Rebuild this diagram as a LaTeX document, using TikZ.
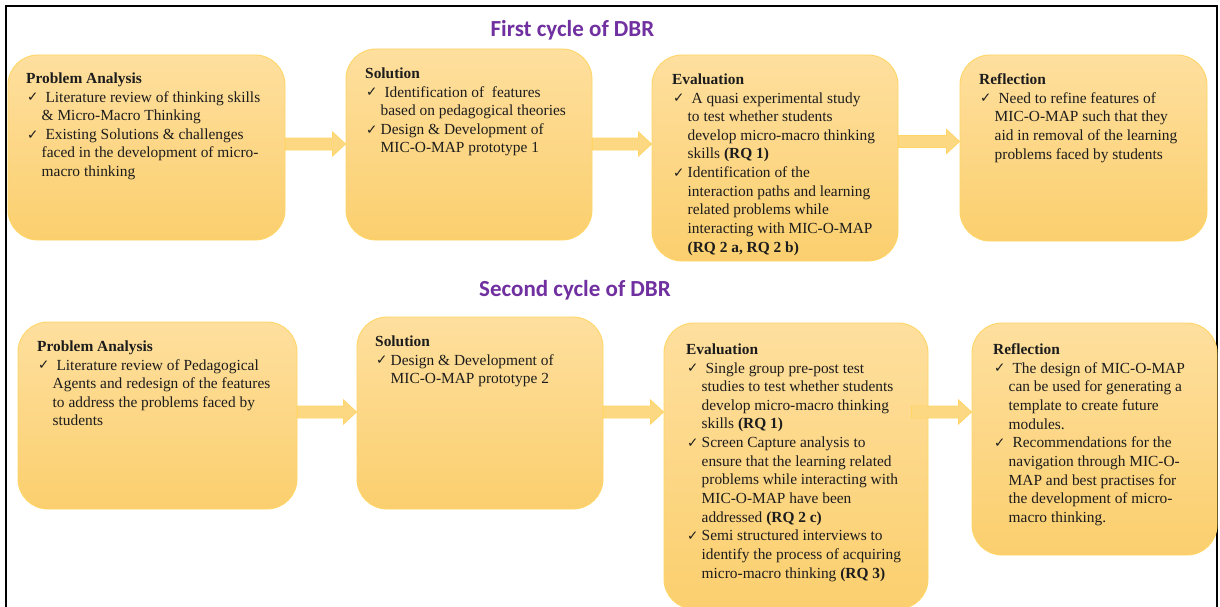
\documentclass[tikz,border=0pt]{standalone}
\usepackage{fontspec}
\setmainfont{Liberation Serif}
\newfontfamily\titlefont{Carlito}
\newfontfamily\checkfont{DejaVu Sans}
\usetikzlibrary{calc}

\definecolor{boxtop}{RGB}{254,223,158}
\definecolor{boxbot}{RGB}{251,207,110}
\definecolor{boxedge}{RGB}{255,214,102}
\definecolor{arrowfill}{RGB}{253,216,130}
\definecolor{titlepurple}{RGB}{112,48,160}
\definecolor{bodytext}{RGB}{28,28,28}

% width reserved for the tick in front of each item
\newlength\ckw
\setlength\ckw{15.5pt}
\newcommand\ck{\makebox[\ckw][l]{\hspace{1pt}\raisebox{0.3pt}{\checkfont\fontsize{13.5}{13.5}\selectfont ✓}}}
\newcommand\hang{\hspace*{\ckw}}

% block arrow from point #1 to point #2 (same height)
\newcommand\flowarrow[2]{%
  \draw[flow] let \p1=#1, \p2=#2 in
    (\x1,\y1+6pt) -- (\x2-13pt,\y1+6pt) -- (\x2-13pt,\y1+12pt) -- (\x2,\y1)
    -- (\x2-13pt,\y1-12pt) -- (\x2-13pt,\y1-6pt) -- (\x1,\y1-6pt) -- cycle;}

\tikzset{
  stage/.style={rounded corners=30pt, top color=boxtop, bottom color=boxbot,
    draw=boxedge, line width=0.9pt, inner sep=0pt},
  stagetext/.style={anchor=north west, align=left, inner sep=0pt,
    font=\fontsize{15.4}{18.65}\selectfont, text=bodytext},
  cycletitle/.style={font=\titlefont\bfseries\fontsize{23}{27}\selectfont, text=titlepurple},
  flow/.style={fill=arrowfill, draw=boxedge, line width=0.8pt, line join=miter},
  frame/.style={draw=black, line width=2pt}
}

\begin{document}
\begin{tikzpicture}[x=1pt, y=-1pt]
\useasboundingbox (0,0) rectangle (1220,607);
\clip (0,0) rectangle (1220,607);
\fill[white] (0,0) rectangle (1220,607);

% outer frame, open at the bottom
\draw[frame] (6.3,620) -- (6.3,6.5) -- (1217,6.5) -- (1217,620);

% titles
\node[cycletitle] (t1) at (572.5,30) {First cycle of DBR};
\node[cycletitle] (t2) at (575,290) {Second cycle of DBR};

% first cycle boxes
\node[stage, minimum width=277pt, minimum height=185pt] (pa1) at (146.5,147.5) {};
\node[stage, minimum width=246pt, minimum height=191pt] (sol1) at (469,144.5) {};
\node[stage, minimum width=246pt, minimum height=206pt] (ev1) at (775,158) {};
\node[stage, minimum width=247pt, minimum height=186pt] (ref1) at (1083.5,148) {};

% second cycle boxes
\node[stage, minimum width=279pt, minimum height=187pt] (pa2) at (157.5,415.5) {};
\node[stage, minimum width=246pt, minimum height=192pt] (sol2) at (480,413) {};
\node[stage, minimum width=264pt, minimum height=286pt] (ev2) at (796,466) {};
\node[stage, minimum width=245pt, minimum height=232pt] (ref2) at (1094.5,439) {};

% arrows
\flowarrow{(pa1.east |- 0,144)}{(sol1.west |- 0,144)}
\flowarrow{(sol1.east |- 0,144)}{(ev1.west |- 0,144)}
\flowarrow{(ev1.east |- 0,141.5)}{(ref1.west |- 0,141.5)}
\flowarrow{(pa2.east |- 0,412)}{(sol2.west |- 0,412)}
\flowarrow{(sol2.east |- 0,412)}{(ev2.west |- 0,412)}
\flowarrow{($(ev2.east |- 0,412)+(-17,0)$)}{(ref2.west |- 0,412)}

% first cycle texts
\node[stagetext] (pa1t) at (26,72.5) {\textbf{Problem Analysis}\\
\ck\ Literature review of thinking skills\\
\hang\& Micro-Macro Thinking\\
\ck\ Existing Solutions \& challenges\\
\hang faced in the development of micro-\\
\hang macro thinking};

\node[stagetext] (sol1t) at (365,67.5) {\textbf{Solution}\\
\ck\ Identification of\ \ features\\
\hang based on pedagogical theories\\
\ck Design \& Development of\\
\hang MIC-O-MAP prototype 1};

\node[stagetext] (ev1t) at (672,73.5) {\textbf{Evaluation}\\
\ck\ A quasi experimental study\\
\hang to test whether students\\
\hang develop micro-macro thinking\\
\hang skills \textbf{(RQ 1)}\\
\ck Identification of the\\
\hang interaction paths and learning\\
\hang related problems while\\
\hang interacting with MIC-O-MAP\\
\hang\textbf{(RQ 2 a, RQ 2 b)}};

\node[stagetext] (ref1t) at (979,73.5) {\textbf{Reflection}\\
\ck\ Need to refine features of\\
\hang MIC-O-MAP such that they\\
\hang aid in removal of the learning\\
\hang problems faced by students};

% second cycle texts
\node[stagetext] (pa2t) at (37,340.5) {\textbf{Problem Analysis}\\
\ck\ Literature review of Pedagogical\\
\hang Agents and redesign of the features\\
\hang to address the problems faced by\\
\hang students};

\node[stagetext] (sol2t) at (375,335.5) {\textbf{Solution}\\
\ck Design \& Development of\\
\hang MIC-O-MAP prototype 2};

\node[stagetext] (ev2t) at (686,343.5) {\textbf{Evaluation}\\
\ck\ Single group pre-post test\\
\hang studies to test whether students\\
\hang develop micro-macro thinking\\
\hang skills \textbf{(RQ 1)}\\
\ck Screen Capture analysis to\\
\hang ensure that the learning related\\
\hang problems while interacting with\\
\hang MIC-O-MAP have been\\
\hang addressed \textbf{(RQ 2 c)}\\
\ck Semi structured interviews to\\
\hang identify the process of acquiring\\
\hang micro-macro thinking \textbf{(RQ 3)}};

\node[stagetext] (ref2t) at (993,343.5) {\textbf{Reflection}\\
\ck\ The design of MIC-O-MAP\\
\hang can be used for generating a\\
\hang template to create future\\
\hang modules.\\
\ck\ Recommendations for the\\
\hang navigation through MIC-O-\\
\hang MAP and best practises for\\
\hang the development of micro-\\
\hang macro thinking.};
\end{tikzpicture}
\end{document}
